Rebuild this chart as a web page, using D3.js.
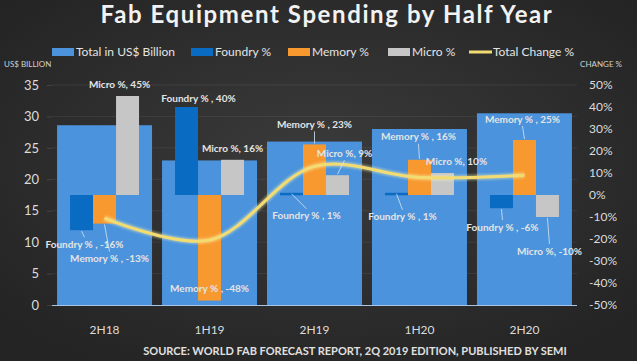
<!DOCTYPE html>
<html>
<head>
<meta charset="utf-8">
<script src="https://cdn.jsdelivr.net/npm/d3@7"></script>
<style>
  html, body { margin: 0; padding: 0; background: #2a2a2a; }
  svg { display: block; font-family: Lato, "Open Sans", sans-serif; }
</style>
</head>
<body>
<div id="chart"></div>
<script>
const halves = ["2H18", "1H19", "2H19", "1H20", "2H20"];
const totals = [28.6, 23.0, 26.0, 28.0, 30.5];
const foundryPct = [-16, 40, 1, 1, -6];
const memoryPct = [-13, -48, 23, 16, 25];
const microPct = [45, 16, 9, 10, -10];
const totalChangePct = [-10.5, -20.5, 13, 8, 9];
const leftTicks = [0, 5, 10, 15, 20, 25, 30, 35];
const rightTicks = [-50, -40, -30, -20, -10, 0, 10, 20, 30, 40, 50];

const colours = {
  total: "#4b93dc",
  foundry: "#0a6bc3",
  memory: "#f7992f",
  micro: "#c6c6c6",
  line: "#f2dc72",
  text: "#e4e4e4"
};

const size = {
  width: 637,
  height: 361,
  left: 52,
  right: 577,
  top: 85,
  bottom: 305
};

// label offsets from the end of each small bar [dx, dy, leader?]
const labelOffsets = {
  Foundry: [[3, 14, true], [12, -9, false], [15, 23, true], [6, 24, true], [1, 19, true]],
  Memory: [[5, 35, true], [0, -12, false], [0, -20, true], [-1, -23, true], [-2, -21, true]],
  Micro: [[-8, -12, false], [0, -11, false], [7, -22, true], [14, -12, false], [2, 34, true]]
};

const series = [
  { key: "Foundry", values: foundryPct, colour: colours.foundry, sep: " , " },
  { key: "Memory", values: memoryPct, colour: colours.memory, sep: " , " },
  { key: "Micro", values: microPct, colour: colours.micro, sep: ", " }
];

function createScales() {
  const x = d3.scaleBand().domain(halves)
    .range([size.left, size.right]).paddingInner(0.095).paddingOuter(0.048);
  const sub = d3.scaleBand().domain(series.map(s => s.key)).range([0, 69]);
  const yL = d3.scaleLinear().domain([0, 35]).range([size.bottom, size.top]);
  const yR = d3.scaleLinear().domain([-50, 50]).range([size.bottom, size.top]);
  return { x, sub, yL, yR };
}

function draw(scale) {
  const svg = d3.select("#chart").append("svg")
    .attr("width", size.width)
    .attr("height", size.height);

  const defs = svg.append("defs");
  const bg = defs.append("radialGradient").attr("id", "bg")
    .attr("cx", "50%").attr("cy", "45%").attr("r", "65%");
  bg.append("stop").attr("offset", "0%").attr("stop-color", "#3b3b3b");
  bg.append("stop").attr("offset", "100%").attr("stop-color", "#242424");
  const glow = defs.append("filter").attr("id", "glow")
    .attr("x", "-10%").attr("y", "-30%").attr("width", "120%").attr("height", "160%");
  glow.append("feGaussianBlur").attr("stdDeviation", 1.2);

  svg.append("rect").attr("width", size.width).attr("height", size.height).attr("fill", "url(#bg)");

  // title
  svg.append("text")
    .attr("x", 327).attr("y", 23)
    .attr("text-anchor", "middle")
    .attr("fill", "#f2f2f2")
    .style("font-size", "24px").style("font-weight", "bold").style("letter-spacing", "1.6px")
    .text("Fab Equipment Spending by Half Year");

  // legend
  const legendItems = [
    { label: "Total in US$ Billion", colour: colours.total, x: 52, type: "rect" },
    { label: "Foundry %", colour: colours.foundry, x: 191, type: "rect" },
    { label: "Memory %", colour: colours.memory, x: 288, type: "rect" },
    { label: "Micro %", colour: colours.micro, x: 388, type: "rect" },
    { label: "Total Change %", colour: colours.line, x: 469, type: "line" }
  ];
  const legend = svg.append("g").selectAll("g").data(legendItems).join("g")
    .attr("transform", d => `translate(${d.x}, 52)`);
  legend.filter(d => d.type === "rect").append("rect")
    .attr("x", 0).attr("y", -4).attr("width", 22).attr("height", 8).attr("fill", d => d.colour);
  legend.filter(d => d.type === "line").append("line")
    .attr("x1", 0).attr("x2", 23).attr("y1", 0).attr("y2", 0)
    .attr("stroke", d => d.colour).attr("stroke-width", 3);
  legend.append("text")
    .attr("x", 24).attr("y", 0).attr("dy", "0.35em")
    .attr("fill", colours.text).style("font-size", "12px")
    .text(d => d.label);

  // axis titles
  svg.append("text").attr("x", 4).attr("y", 67).attr("fill", "#d0d0d0")
    .style("font-size", "8px").text("US$ BILLION");
  svg.append("text").attr("x", 622).attr("y", 67).attr("text-anchor", "end").attr("fill", "#d0d0d0")
    .style("font-size", "8px").text("CHANGE %");

  // grid lines
  svg.append("g").selectAll("line").data(leftTicks.slice(1)).join("line")
    .attr("x1", size.left).attr("x2", size.right)
    .attr("y1", d => scale.yL(d)).attr("y2", d => scale.yL(d))
    .attr("stroke", "#ffffff").attr("stroke-opacity", 0.07);

  // axes
  const yAxis = d3.axisLeft(scale.yL).tickValues(leftTicks).tickSize(5).tickPadding(8);
  const gl = svg.append("g").attr("transform", `translate(${size.left}, 0)`).call(yAxis);
  gl.select(".domain").remove();
  gl.selectAll(".tick line").attr("stroke", "#ffffff").attr("stroke-opacity", 0.12);
  gl.selectAll("text").style("fill", "#dcdcdc").style("font-size", "13px").style("font-family", "Lato, sans-serif");

  const yAxisR = d3.axisRight(scale.yR).tickValues(rightTicks).tickFormat(d => d + "%").tickSize(0).tickPadding(12);
  const gr = svg.append("g").attr("transform", `translate(${size.right}, 0)`).call(yAxisR);
  gr.select(".domain").remove();
  gr.selectAll("text").style("fill", "#dcdcdc").style("font-size", "12px").style("font-family", "Lato, sans-serif");

  // total bars
  svg.append("g").selectAll("rect").data(halves).join("rect")
    .attr("x", d => scale.x(d))
    .attr("width", scale.x.bandwidth())
    .attr("y", (d, i) => scale.yL(totals[i]))
    .attr("height", (d, i) => scale.yL(0) - scale.yL(totals[i]))
    .attr("fill", colours.total);

  // baseline
  svg.append("line").attr("x1", size.left).attr("x2", size.right)
    .attr("y1", size.bottom + 0.5).attr("y2", size.bottom + 0.5)
    .attr("stroke", "#a7c5e6").attr("stroke-width", 1);

  // x labels
  const xAxis = d3.axisBottom(scale.x).tickSize(0).tickPadding(20);
  const gx = svg.append("g").attr("transform", `translate(0, ${size.bottom})`).call(xAxis);
  gx.select(".domain").remove();
  gx.selectAll("text").style("fill", "#dcdcdc").style("font-size", "12px").style("font-family", "Lato, sans-serif");

  // small percentage bars
  const subStart = h => scale.x(h) + scale.x.bandwidth() / 2 - scale.sub.range()[1] / 2;
  series.forEach(s => {
    svg.append("g").selectAll("rect").data(halves).join("rect")
      .attr("x", d => subStart(d) + scale.sub(s.key))
      .attr("width", scale.sub.bandwidth())
      .attr("y", (d, i) => Math.min(scale.yR(s.values[i]), scale.yR(0)))
      .attr("height", (d, i) => Math.max(2.5, Math.abs(scale.yR(s.values[i]) - scale.yR(0))))
      .attr("fill", s.colour);
  });

  // total change line
  const line = d3.line()
    .x((d, i) => scale.x(halves[i]) + scale.x.bandwidth() / 2)
    .y(d => scale.yR(d))
    .curve(d3.curveCatmullRom);
  svg.append("path").datum(totalChangePct)
    .attr("d", line).attr("fill", "none")
    .attr("stroke", "#fff6b0").attr("stroke-opacity", 0.45).attr("stroke-width", 5.5)
    .attr("filter", "url(#glow)");
  svg.append("path").datum(totalChangePct)
    .attr("d", line).attr("fill", "none")
    .attr("stroke", colours.line).attr("stroke-width", 3);

  // data labels with leader lines
  series.forEach(s => {
    halves.forEach((h, i) => {
      const v = s.values[i];
      const [dx, dy, leader] = labelOffsets[s.key][i];
      const cx = subStart(h) + scale.sub(s.key) + scale.sub.bandwidth() / 2;
      const ey = scale.yR(v);
      const lx = cx + dx, ly = ey + dy;
      if (leader) {
        const dir = dy > 0 ? 1 : -1;
        svg.append("line")
          .attr("x1", cx).attr("y1", ey + dir * 1)
          .attr("x2", lx).attr("y2", ly - dir * 7)
          .attr("stroke", "#d8e6f4").attr("stroke-width", 0.8);
      }
      svg.append("text")
        .attr("x", lx).attr("y", ly).attr("dy", "0.35em")
        .attr("text-anchor", "middle")
        .attr("fill", colours.text)
        .style("font-size", "10px").style("font-weight", "bold")
        .text(`${s.key} %${s.sep}${v}%`);
    });
  });

  // source
  svg.append("text")
    .attr("x", 355).attr("y", 351).attr("dy", "0.35em")
    .attr("text-anchor", "middle").attr("fill", "#e0e0e0")
    .style("font-size", "11px").style("font-weight", "bold")
    .text("SOURCE: WORLD FAB FORECAST REPORT, 2Q 2019 EDITION, PUBLISHED BY SEMI");
}

draw(createScales());
</script>
</body>
</html>
